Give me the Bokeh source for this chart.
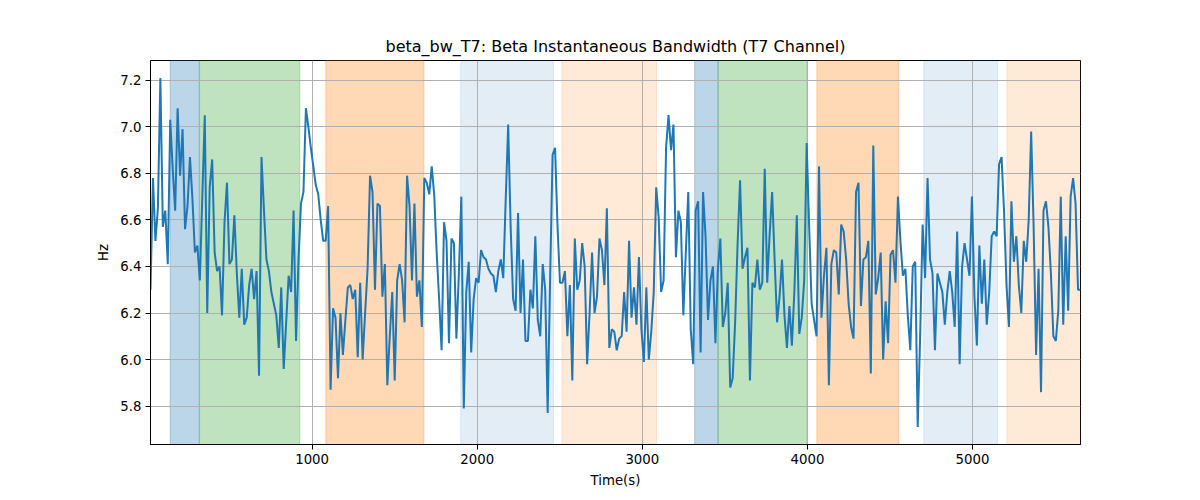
import numpy as np
from bokeh.plotting import figure
from bokeh.models import Range1d, BoxAnnotation, FixedTicker, PrintfTickFormatter
from bokeh.embed import file_html
from bokeh.resources import INLINE

# ---- data ----
t_first = 21.0
t_last = 5654.0
beta_bw = [
    6.30, 6.78, 6.51, 6.65, 7.21, 6.57, 6.64, 6.41, 7.03, 6.82,
    6.64, 7.08, 6.79, 6.99, 6.56, 6.66, 6.87, 6.69, 6.46, 6.49,
    6.34, 6.70, 7.05, 6.20, 6.74, 6.86, 6.46, 6.38, 6.40, 6.19,
    6.59, 6.76, 6.41, 6.43, 6.62, 6.37, 6.18, 6.39, 6.15, 6.18,
    6.32, 6.39, 6.26, 6.38, 5.93, 6.87, 6.64,
    6.43, 6.38, 6.29, 6.24, 6.19, 6.05, 6.31, 5.96, 6.16, 6.36,
    6.29, 6.64, 6.08, 6.43, 6.67, 6.72, 7.08, 7.00, 6.91, 6.83,
    6.75, 6.71, 6.60, 6.51, 6.51, 6.66, 5.87, 6.22, 6.18, 5.92,
    6.20, 6.02, 6.17, 6.31, 6.32, 6.26, 6.30, 6.01, 6.33, 6.00,
    6.20, 6.39, 6.79, 6.72, 6.30, 6.67, 6.66,
    6.27, 6.41, 5.89, 6.10, 6.29, 5.91, 6.34, 6.41, 6.34, 6.16,
    6.79, 6.66, 6.34, 6.67, 6.27, 6.34, 6.14, 6.78, 6.76, 6.71,
    6.83, 6.71, 6.46, 6.26, 6.04, 6.59, 6.51, 6.07, 6.52, 6.50,
    6.09, 6.37, 6.70, 5.79, 6.29, 6.42, 6.03, 6.26, 6.35, 6.33,
    6.47, 6.44, 6.43, 6.39, 6.37, 6.36, 6.29,
    6.38, 6.43, 6.35, 6.69, 7.01, 6.57, 6.26, 6.21, 6.63, 6.20,
    6.43, 6.08, 6.08, 6.30, 6.22, 6.53, 6.17, 6.10, 6.41, 6.30,
    5.77, 6.35, 6.88, 6.91, 6.57, 6.33, 6.33, 6.38, 6.10, 6.32,
    5.91, 6.52, 6.30, 6.34, 6.50, 6.40, 5.98, 6.20, 6.46, 6.20,
    6.27, 6.52, 6.47, 6.32, 6.65, 6.05, 6.13,
    6.12, 6.04, 6.09, 6.10, 6.29, 6.12, 6.51, 6.18, 6.31, 6.15,
    6.44, 6.13, 5.99, 6.31, 6.00, 6.12, 6.29, 6.74, 6.61, 6.29,
    6.34, 6.91, 7.05, 6.90, 7.01, 6.44, 6.64, 6.59, 6.19, 6.46,
    6.72, 6.13, 5.98, 6.64, 6.68, 6.03, 6.72, 6.53, 6.17, 6.34,
    6.40, 6.07, 6.39, 6.52, 6.14, 6.20, 6.33,
    5.88, 5.92, 6.16, 6.50, 6.77, 6.39, 6.44, 6.48, 5.91, 6.33,
    6.31, 6.43, 6.30, 6.33, 6.82, 6.33, 6.54, 6.72, 6.43, 6.16,
    6.27, 6.43, 6.19, 6.05, 6.23, 6.06, 6.29, 6.62, 6.11, 6.18,
    6.34, 6.93, 6.57, 6.24, 6.17, 6.10, 6.83, 6.18, 6.36, 6.48,
    5.89, 6.41, 6.47, 6.46, 6.28, 6.58, 6.55,
    6.43, 6.24, 6.14, 6.09, 6.72, 6.76, 6.23, 6.43, 6.44, 6.51,
    5.94, 6.92, 6.28, 6.35, 6.46, 6.00, 6.25, 6.07, 6.45, 6.47,
    6.33, 6.70, 6.51, 6.36, 6.39, 6.19, 6.04, 6.40, 6.42, 5.71,
    6.10, 6.58, 6.35, 6.78, 6.43, 6.37, 6.04, 6.37, 6.33, 6.29,
    6.15, 6.29, 6.38, 6.29, 6.14, 6.55, 5.98,
    6.40, 6.50, 6.43, 6.36, 6.70, 6.27, 6.06, 6.49, 6.24, 6.43,
    6.15, 6.29, 6.53, 6.55, 6.53, 6.84, 6.87, 6.64, 6.32, 6.14,
    6.68, 6.42, 6.53, 6.32, 6.20, 6.51, 6.42, 6.60, 6.98, 6.57,
    6.02, 6.39, 5.86, 6.64, 6.68, 6.57, 6.37, 6.10, 6.08, 6.21,
    6.70, 6.15, 6.53, 6.21, 6.70, 6.78, 6.67, 6.30, 6.30,
]
time_s = np.linspace(t_first, t_last, len(beta_bw))

band_start = [140, 318, 1083, 1900, 2513, 3317, 3459, 4057, 4705, 5208]
band_end = [316, 925, 1677, 2462, 3086, 3459, 3998, 4554, 5151, 5700]
band_color = ["#1f77b4", "#2ca02c", "#ff7f0e", "#1f77b4", "#ff7f0e",
              "#1f77b4", "#2ca02c", "#ff7f0e", "#1f77b4", "#ff7f0e"]
band_alpha = [0.3, 0.3, 0.3, 0.13, 0.16, 0.3, 0.3, 0.3, 0.13, 0.16]

x_ticks = [1000, 2000, 3000, 4000, 5000]
y_ticks = [5.8, 6.0, 6.2, 6.4, 6.6, 6.8, 7.0, 7.2]

FONT = "DejaVu Sans"

p = figure(width=1200, height=500,
           x_range=Range1d(t_first, t_last),
           y_range=Range1d(5.635, 7.285),
           output_backend="svg", toolbar_location=None,
           min_border_left=150, min_border_right=120,
           min_border_top=60, min_border_bottom=56)

p.title.text = "beta_bw_T7: Beta Instantaneous Bandwidth (T7 Channel)"
p.title.align = "center"
p.title.text_font = FONT
p.title.text_font_size = "16px"
p.title.text_font_style = "normal"
p.title.text_color = "black"

for s, e, c, a in zip(band_start, band_end, band_color, band_alpha):
    p.add_layout(BoxAnnotation(left=s, right=e, fill_color=c, fill_alpha=a,
                               line_color=c, line_alpha=a, line_width=1,
                               level="image"))

p.line(time_s, beta_bw, line_color="#1f77b4", line_width=2)

p.xaxis.ticker = FixedTicker(ticks=x_ticks, minor_ticks=[])
p.yaxis.ticker = FixedTicker(ticks=y_ticks, minor_ticks=[])
p.yaxis.formatter = PrintfTickFormatter(format="%.1f")
p.xaxis.axis_label = "Time(s)"
p.yaxis.axis_label = "Hz"

for ax in (p.xaxis, p.yaxis):
    ax.axis_label_text_font = FONT
    ax.axis_label_text_font_size = "13.3px"
    ax.axis_label_text_font_style = "normal"
    ax.axis_label_text_color = "black"
    ax.major_label_text_font = FONT
    ax.major_label_text_font_size = "13.3px"
    ax.major_label_text_color = "black"
    ax.axis_line_color = "black"
    ax.major_tick_line_color = "black"
    ax.major_tick_out = 5
    ax.major_tick_in = 0
    ax.minor_tick_line_color = None
    ax.major_label_standoff = 4
    ax.axis_label_standoff = 6

p.grid.grid_line_color = "#b0b0b0"
p.grid.grid_line_width = 1.0
p.outline_line_color = "black"
p.outline_line_width = 1
p.outline_line_alpha = 1
p.background_fill_color = "white"
p.border_fill_color = "white"

open("out.html", "w").write(file_html(p, INLINE))
